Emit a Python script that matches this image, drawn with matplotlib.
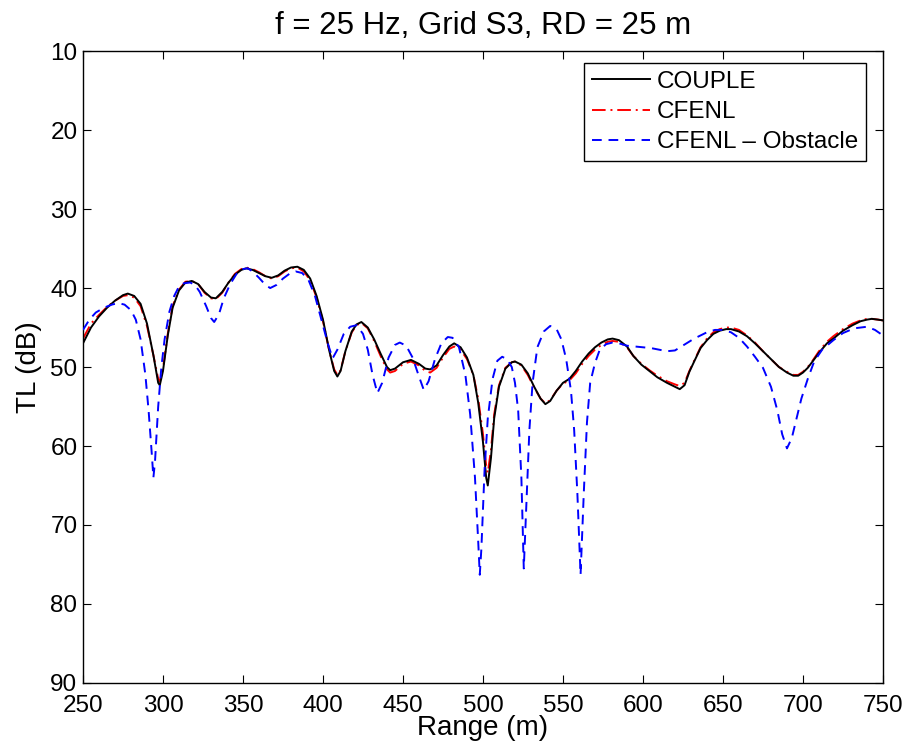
import matplotlib
matplotlib.use("Agg")
import matplotlib.pyplot as plt

plt.rcParams.update({
    "font.family": ["Liberation Sans", "DejaVu Sans"],
    "font.size": 17.5,
    "xtick.direction": "in", "ytick.direction": "in",
    "xtick.top": True, "ytick.right": True,
    "xtick.major.size": 6, "ytick.major.size": 6,
    "axes.linewidth": 1.0,
})

# COUPLE (negro)
r_couple = [250, 255, 260, 265, 270, 275, 278, 282, 286, 290, 294, 297, 298, 300, 303, 306,
            310, 314, 318, 322, 326, 330, 333, 337, 341, 345, 349, 352, 356, 360, 364, 368,
            372, 376, 380, 384, 388, 392, 396, 400, 404, 407, 409, 411, 414, 418, 421, 424,
            428, 432, 436, 440, 442, 445, 450, 455, 460, 464, 467, 471, 475, 479, 482, 486,
            490, 494, 497, 500, 502, 503, 505, 507, 510, 514, 518, 520, 524, 528, 532, 536,
            539, 542, 546, 550, 554, 558, 562, 566, 570, 574, 578, 581, 585, 590, 594, 599,
            604, 609, 615, 620, 623, 626, 629, 632, 636, 640, 644, 648, 652, 655, 660, 665,
            670, 675, 680, 685, 690, 694, 697, 700, 703, 706, 710, 715, 719, 725, 731, 736,
            740, 743, 747, 750]
tl_couple = [47.0, 45.0, 43.6, 42.5, 41.6, 40.9, 40.7, 41.0, 42.0, 44.5, 48.5, 52.0, 52.3, 50.5, 46.0, 42.5,
             40.3, 39.3, 39.1, 39.5, 40.5, 41.2, 41.3, 40.5, 39.3, 38.3, 37.7, 37.5, 37.7, 38.1, 38.5, 38.7,
             38.4, 37.8, 37.4, 37.3, 37.7, 38.8, 41.0, 44.0, 48.0, 50.5, 51.2, 50.5, 48.0, 45.5, 44.6, 44.3,
             45.0, 46.5, 48.3, 50.0, 50.4, 50.2, 49.4, 49.1, 49.6, 50.2, 50.3, 49.8, 48.5, 47.4, 47.0, 47.5,
             48.8, 51.0, 54.5, 59.5, 64.0, 65.0, 61.5, 56.5, 52.5, 50.2, 49.4, 49.3, 49.7, 50.8, 52.5, 54.0,
             54.7, 54.3, 53.0, 52.0, 51.5, 50.5, 49.3, 48.3, 47.5, 46.9, 46.5, 46.4, 46.6, 47.4, 48.6, 49.7,
             50.5, 51.3, 52.0, 52.5, 52.8, 52.3, 50.6, 49.3, 47.6, 46.6, 45.8, 45.4, 45.2, 45.2, 45.5, 46.1,
             47.0, 48.0, 49.0, 50.0, 50.7, 51.1, 51.1, 50.7, 50.1, 49.3, 48.2, 47.0, 46.4, 45.4, 44.7, 44.2,
             44.0, 43.9, 44.0, 44.1]

# CFENL (rojo)
r_cfenl = [250, 255, 260, 265, 270, 275, 278, 282, 286, 290, 294, 297, 298, 300, 303, 306,
           310, 314, 318, 322, 326, 330, 333, 337, 341, 345, 349, 352, 356, 360, 364, 368,
           372, 376, 380, 384, 388, 392, 396, 400, 404, 407, 409, 411, 414, 418, 421, 424,
           428, 432, 436, 440, 442, 445, 450, 455, 460, 464, 467, 471, 475, 479, 482, 486,
           490, 494, 497, 500, 502, 503, 505, 507, 510, 514, 518, 520, 524, 528, 532, 536,
           539, 542, 546, 550, 554, 558, 562, 566, 570, 574, 578, 581, 585, 590, 594, 599,
           604, 609, 615, 620, 623, 626, 629, 632, 636, 640, 644, 648, 652, 655, 660, 665,
           670, 675, 680, 685, 690, 694, 697, 700, 703, 706, 710, 715, 719, 725, 731, 736,
           740, 743, 747, 750]
tl_cfenl = [46.4, 44.5, 43.4, 42.4, 41.6, 41.0, 40.9, 41.2, 42.3, 44.8, 48.5, 51.5, 51.8, 50.2, 45.8, 42.3,
            40.2, 39.2, 39.1, 39.5, 40.6, 41.3, 41.4, 40.6, 39.3, 38.2, 37.6, 37.4, 37.6, 38.0, 38.5, 38.8,
            38.5, 37.9, 37.5, 37.4, 37.9, 39.0, 41.2, 44.2, 48.0, 50.3, 51.0, 50.4, 48.0, 45.6, 44.7, 44.4,
            45.1, 46.7, 48.6, 50.3, 50.7, 50.5, 49.6, 49.3, 49.8, 50.5, 50.7, 50.1, 48.8, 47.7, 47.4, 47.8,
            49.0, 51.0, 54.0, 58.5, 62.5, 63.4, 60.5, 56.0, 52.3, 50.1, 49.4, 49.3, 49.8, 51.0, 52.6, 54.0,
            54.6, 54.2, 53.0, 52.1, 51.7, 50.8, 49.6, 48.6, 47.8, 47.2, 46.8, 46.7, 46.8, 47.5, 48.6, 49.6,
            50.4, 51.1, 51.8, 52.2, 52.4, 52.0, 50.5, 49.2, 47.5, 46.4, 45.6, 45.2, 45.0, 45.0, 45.3, 46.0,
            46.9, 48.0, 49.0, 50.0, 50.6, 51.0, 51.0, 50.6, 50.0, 49.2, 48.0, 46.8, 46.1, 45.2, 44.5, 44.1,
            43.9, 43.9, 44.0, 44.1]

# CFENL - Obstacle (azul)
r_obst = [250, 254, 258, 263, 268, 272, 276, 280, 283, 286, 289, 291, 293, 294, 295, 297,
          299, 301, 304, 307, 310, 313, 317, 320, 323, 327, 330, 332, 335, 338, 342, 346,
          350, 353, 356, 360, 364, 367, 371, 375, 379, 383, 387, 391, 395, 399, 403, 406,
          409, 413, 417, 421, 425, 428, 431, 434, 437, 441, 445, 448, 452, 456, 460, 463,
          466, 470, 474, 478, 481, 485, 489, 492, 495, 497, 498, 499, 501, 503, 506, 509,
          512, 515, 518, 520, 522, 524, 525.5, 527, 529, 531, 534, 538, 542, 546, 549, 552,
          555, 557, 559, 561, 563, 565, 567, 570, 573, 577, 581, 585, 590, 595, 600, 605,
          610, 615, 620, 624, 628, 632, 636, 640, 645, 650, 655, 660, 665, 670, 675, 680,
          684, 687, 690, 693, 696, 699, 703, 707, 712, 719, 725, 732, 740, 745, 750]
tl_obst = [45.3, 44.0, 43.1, 42.5, 42.1, 41.9, 42.1, 42.8, 44.0, 46.5, 51.0, 55.5, 61.0, 64.0, 62.0, 55.0,
           50.0, 46.5, 43.0, 41.0, 39.8, 39.4, 39.3, 39.6, 40.5, 42.3, 43.8, 44.3, 43.3, 41.3, 39.5, 38.2,
           37.6, 37.5, 37.9, 38.7, 39.6, 40.0, 39.6, 38.8, 38.2, 37.9, 38.1, 39.0, 41.0, 44.0, 47.0, 48.9,
           47.8, 45.8, 44.9, 44.7, 45.8, 47.8, 51.0, 53.3, 52.0, 48.8, 47.2, 46.9, 47.3, 48.8, 51.2, 52.9,
           51.8, 49.0, 47.0, 46.2, 46.3, 47.5, 51.0, 56.0, 64.0, 72.0, 76.3, 73.0, 63.0, 56.5, 51.5, 49.2,
           48.7, 49.0, 50.0, 52.0, 55.5, 64.0, 75.5, 68.0, 58.0, 52.0, 47.5, 45.5, 44.8, 45.2, 46.5, 49.0,
           53.0, 58.0, 66.0, 76.3, 66.0, 57.0, 52.0, 49.5, 47.8, 47.1, 46.9, 47.0, 47.3, 47.4, 47.5, 47.6,
           47.8, 48.0, 47.9, 47.4, 46.9, 46.4, 46.0, 45.6, 45.3, 45.3, 45.6, 46.3, 47.4, 48.7, 50.1, 52.5,
           55.5, 58.5, 60.3, 59.0, 56.5, 54.0, 51.5, 49.3, 47.8, 46.6, 45.7, 45.1, 44.9, 45.3, 46.0]

x_ticks = list(range(250, 751, 50))
y_ticks = list(range(10, 91, 10))

fig = plt.figure(figsize=(9.07, 7.46), dpi=100)
ax = fig.add_axes([0.0915, 0.0845, 0.882, 0.847])

ax.plot(r_cfenl, tl_cfenl, color="red", lw=1.4, dashes=(7, 2.5, 1, 2.5), label="CFENL", zorder=2)
ax.plot(r_couple, tl_couple, color="black", lw=1.4, label="COUPLE", zorder=3)
ax.plot(r_obst, tl_obst, color="blue", lw=1.4, dashes=(5, 3.5), label="CFENL – Obstacle", zorder=4)

ax.set_xlim(250, 750)
ax.set_ylim(90, 10)
ax.set_xticks(x_ticks)
ax.set_yticks(y_ticks)
ax.tick_params(labelsize=17.5)
ax.tick_params(axis="x", pad=8.5)
ax.tick_params(axis="y", pad=4)
ax.set_xlabel("Range (m)", fontsize=20, labelpad=-1)
ax.set_ylabel("TL (dB)", fontsize=20, labelpad=6)
ax.set_title("f = 25 Hz, Grid S3, RD = 25 m", fontsize=22.5, pad=12)

h, l = ax.get_legend_handles_labels()
order = [1, 0, 2]
leg = ax.legend([h[i] for i in order], [l[i] for i in order], loc="upper right",
                bbox_to_anchor=(0.979, 0.981), borderaxespad=0,
                fontsize=17.5, fancybox=False, framealpha=1, edgecolor="black",
                handlelength=2.4, handletextpad=0.3,
                borderpad=0.32, labelspacing=0.34)
leg.get_frame().set_linewidth(1.0)

fig.savefig("out.png", dpi=100)
